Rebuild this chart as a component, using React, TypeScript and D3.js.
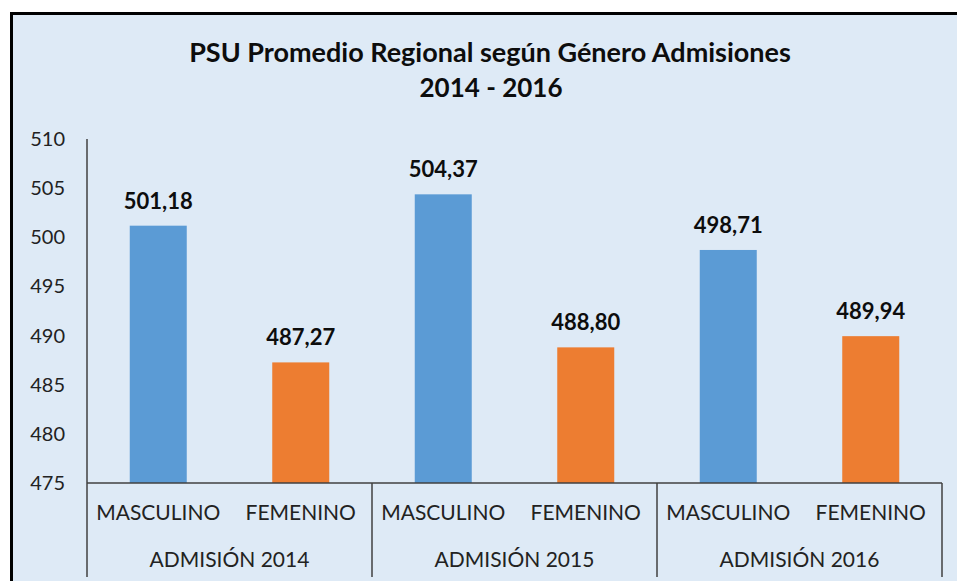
import React, { useEffect, useRef } from 'react';
import * as d3 from 'd3';

const groups = ['ADMISIÓN 2014', 'ADMISIÓN 2015', 'ADMISIÓN 2016'];
const genders = ['MASCULINO', 'FEMENINO'];
const masculino = [501.18, 504.37, 498.71];
const femenino = [487.27, 488.8, 489.94];
const yTicks = [475, 480, 485, 490, 495, 500, 505, 510];
const colors = ['#5B9BD5', '#ED7D31'];

const W = 957;
const H = 581;
const FONT = 'Lato, "Open Sans", sans-serif';

const App = () => {
  const svgRef = useRef<SVGSVGElement>(null);

  useEffect(() => {
    if (!svgRef.current) return;
    const svg = d3.select(svgRef.current);
    svg.selectAll('*').remove();

    const margin = { top: 139, left: 87, right: 15, bottom: 98 };
    const plotBottom = H - margin.bottom;
    const plotRight = W - margin.right;

    // background + frame (the chart is cropped at right/bottom)
    svg.append('rect').attr('width', W).attr('height', H).attr('fill', '#fff');
    svg.append('rect')
      .attr('x', 11.5).attr('y', 13.5)
      .attr('width', 2000).attr('height', 2000)
      .attr('fill', '#DEEAF6')
      .attr('stroke', '#000')
      .attr('stroke-width', 3);

    const y = d3.scaleLinear().domain([475, 510]).range([plotBottom, margin.top]);
    const x0 = d3.scaleBand<string>().domain(groups).range([margin.left, plotRight]).padding(0);
    const x1 = d3.scaleBand<string>().domain(genders).range([0, x0.bandwidth()])
      .paddingInner(0.6).paddingOuter(0.3);

    // title
    const title = svg.append('text')
      .attr('x', 490)
      .attr('text-anchor', 'middle')
      .attr('font-family', FONT)
      .attr('font-weight', 'bold')
      .attr('font-size', 27)
      .attr('fill', '#0d0d0d');
    title.append('tspan').attr('x', 490).attr('y', 62).text('PSU Promedio Regional según Género Admisiones');
    title.append('tspan').attr('x', 491).attr('y', 97).attr('font-size', 26).text('2014 - 2016');

    // y tick labels
    svg.append('g')
      .selectAll('text')
      .data(yTicks)
      .enter()
      .append('text')
      .attr('x', 65)
      .attr('y', d => y(d))
      .attr('dy', '0.35em')
      .attr('text-anchor', 'end')
      .attr('font-family', FONT)
      .attr('font-size', 20)
      .attr('fill', '#222')
      .text(d => d);

    // bars
    const rows = groups.map((g, i) => ({ g, values: [masculino[i], femenino[i]] }));
    const gg = svg.append('g')
      .selectAll('g')
      .data(rows)
      .enter()
      .append('g')
      .attr('transform', d => `translate(${x0(d.g)},0)`);

    gg.selectAll('rect')
      .data(d => d.values.map((v, j) => ({ v, j })))
      .enter()
      .append('rect')
      .attr('x', d => x1(genders[d.j])!)
      .attr('y', d => y(d.v))
      .attr('width', x1.bandwidth())
      .attr('height', d => plotBottom - y(d.v))
      .attr('fill', d => colors[d.j]);

    gg.selectAll('text.val')
      .data(d => d.values.map((v, j) => ({ v, j })))
      .enter()
      .append('text')
      .attr('class', 'val')
      .attr('x', d => x1(genders[d.j])! + x1.bandwidth() / 2)
      .attr('y', d => y(d.v) - 17)
      .attr('text-anchor', 'middle')
      .attr('font-family', FONT)
      .attr('font-weight', 'bold')
      .attr('font-size', 22)
      .attr('fill', '#0d0d0d')
      .text(d => d.v.toFixed(2).replace('.', ','));

    // category labels
    gg.selectAll('text.cat')
      .data(genders)
      .enter()
      .append('text')
      .attr('class', 'cat')
      .attr('x', d => x1(d)! + x1.bandwidth() / 2)
      .attr('y', 520)
      .attr('text-anchor', 'middle')
      .attr('font-family', FONT)
      .attr('font-size', 21)
      .attr('fill', '#222')
      .text(d => d);

    gg.append('text')
      .attr('x', x0.bandwidth() / 2)
      .attr('y', 567)
      .attr('text-anchor', 'middle')
      .attr('font-family', FONT)
      .attr('font-size', 21)
      .attr('fill', '#222')
      .text(d => d.g);

    // axes lines
    const axisColor = '#404040';
    svg.append('line')
      .attr('x1', margin.left).attr('x2', margin.left)
      .attr('y1', margin.top).attr('y2', 577)
      .attr('stroke', axisColor).attr('stroke-width', 1.5);
    svg.append('line')
      .attr('x1', margin.left).attr('x2', plotRight)
      .attr('y1', plotBottom).attr('y2', plotBottom)
      .attr('stroke', axisColor).attr('stroke-width', 1.5);
    svg.append('g')
      .selectAll('line')
      .data(groups.slice(1).map(g => x0(g)!).concat([plotRight]))
      .enter()
      .append('line')
      .attr('x1', d => d).attr('x2', d => d)
      .attr('y1', plotBottom).attr('y2', 577)
      .attr('stroke', axisColor).attr('stroke-width', 1.5);
  }, []);

  return (
    <svg ref={svgRef} width={W} height={H}
      style={{ position: 'absolute', left: 0, top: 0, display: 'block' }} />
  );
};

export default App;
